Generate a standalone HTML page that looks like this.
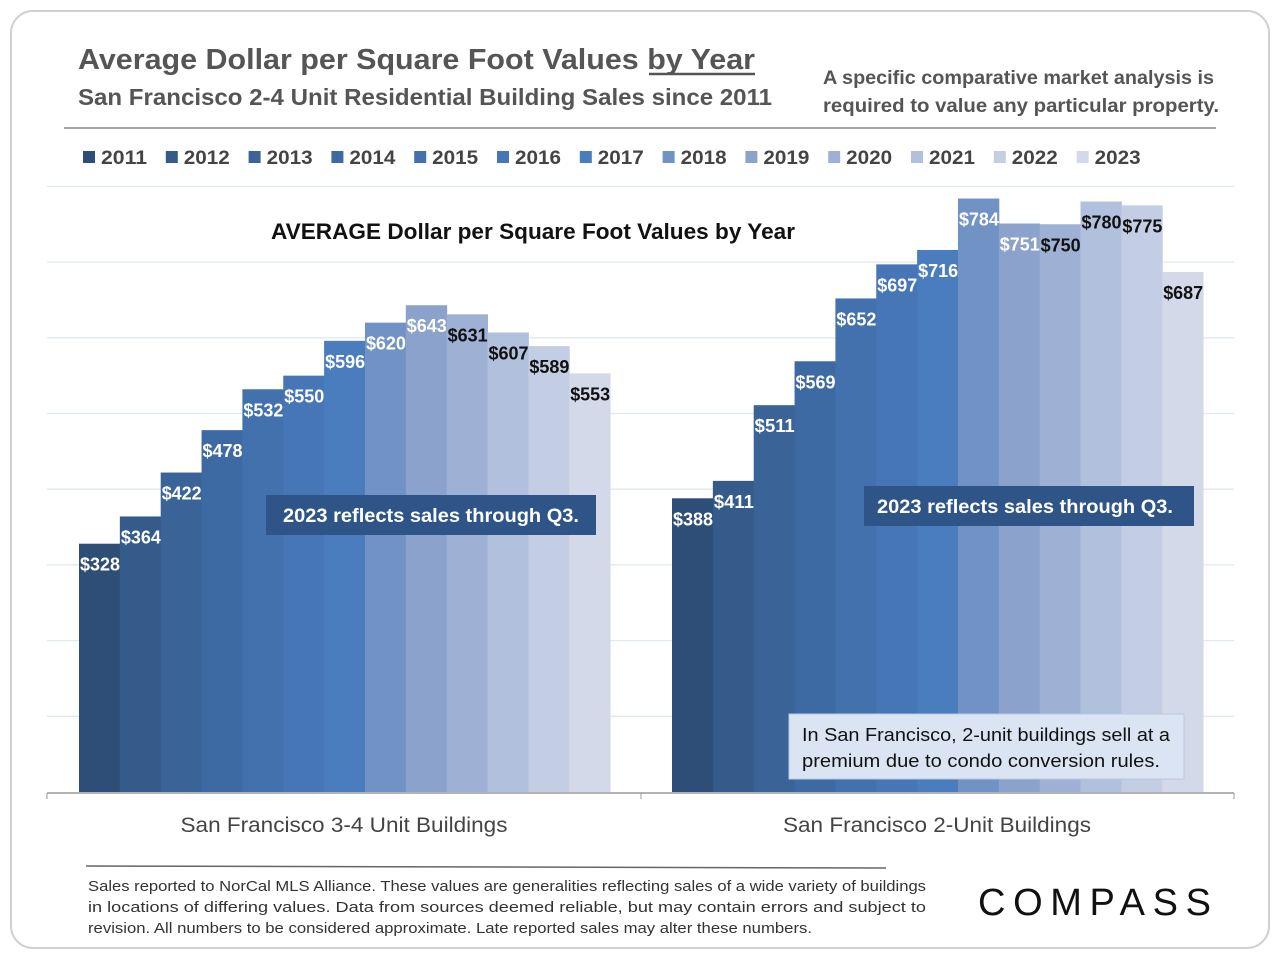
<!DOCTYPE html>
<html><head><meta charset="utf-8"><style>
body{margin:0;background:#fff;font-family:"Liberation Sans",sans-serif}
svg text{font-family:"Liberation Sans",sans-serif}
</style></head><body>
<svg id="chart" width="1280" height="960" xmlns="http://www.w3.org/2000/svg">
<rect x="11" y="11" width="1258" height="937" rx="22" fill="#fff" stroke="#d0d0d0" stroke-width="2"/>
<text x="78" y="69" font-size="29" font-weight="bold" fill="#555" textLength="677" lengthAdjust="spacingAndGlyphs">Average Dollar per Square Foot Values by Year</text>
<line x1="649" y1="74" x2="755" y2="74" stroke="#555" stroke-width="2.5"/>
<text x="78" y="105" font-size="23" font-weight="bold" fill="#555" textLength="694" lengthAdjust="spacingAndGlyphs">San Francisco 2-4 Unit Residential Building Sales since 2011</text>
<text x="823" y="84" font-size="19" font-weight="bold" fill="#555" textLength="391" lengthAdjust="spacingAndGlyphs">A specific comparative market analysis is</text>
<text x="823" y="112" font-size="19" font-weight="bold" fill="#555" textLength="396" lengthAdjust="spacingAndGlyphs">required to value any particular property.</text>
<line x1="64" y1="128" x2="1216" y2="128" stroke="#888" stroke-width="1.5"/>
<g id="legend"></g>
<g id="grid"></g>
<g id="bars"></g>
<text x="533" y="239" text-anchor="middle" font-size="22" font-weight="bold" fill="#111" textLength="524" lengthAdjust="spacingAndGlyphs">AVERAGE Dollar per Square Foot Values by Year</text>
<rect x="266" y="495" width="330" height="40" fill="#2f5588"/>
<text x="431" y="522" text-anchor="middle" font-size="19" font-weight="bold" fill="#fff" textLength="296" lengthAdjust="spacingAndGlyphs">2023 reflects sales through Q3.</text>
<rect x="864" y="486" width="330" height="40" fill="#2f5588"/>
<text x="1025" y="513" text-anchor="middle" font-size="19" font-weight="bold" fill="#fff" textLength="296" lengthAdjust="spacingAndGlyphs">2023 reflects sales through Q3.</text>
<rect x="789" y="714" width="395" height="65" fill="#dbe4f2" stroke="#b9c8e0"/>
<text x="802" y="741" font-size="18" fill="#111" textLength="368" lengthAdjust="spacingAndGlyphs">In San Francisco, 2-unit buildings sell at a</text>
<text x="802" y="767" font-size="18" fill="#111" textLength="358" lengthAdjust="spacingAndGlyphs">premium due to condo conversion rules.</text>
<line x1="47" y1="793" x2="1234" y2="793" stroke="#999" stroke-width="1.5"/>
<line x1="47" y1="793" x2="47" y2="799" stroke="#999"/>
<line x1="641" y1="793" x2="641" y2="799" stroke="#999"/>
<line x1="1234" y1="793" x2="1234" y2="799" stroke="#999"/>
<text x="344" y="832" text-anchor="middle" font-size="21" fill="#444" textLength="327" lengthAdjust="spacingAndGlyphs">San Francisco 3-4 Unit Buildings</text>
<text x="937" y="832" text-anchor="middle" font-size="21" fill="#444" textLength="308" lengthAdjust="spacingAndGlyphs">San Francisco 2-Unit Buildings</text>
<line x1="86" y1="866" x2="886" y2="868" stroke="#666" stroke-width="1.5"/>
<text x="88" y="891" font-size="14.5" fill="#333" textLength="838" lengthAdjust="spacingAndGlyphs">Sales reported to NorCal MLS Alliance. These values are generalities reflecting sales of a wide variety of buildings</text>
<text x="88" y="912" font-size="14.5" fill="#333" textLength="838" lengthAdjust="spacingAndGlyphs">in locations of differing values. Data from sources deemed reliable, but may contain errors and subject to</text>
<text x="88" y="933" font-size="14.5" fill="#333" textLength="724" lengthAdjust="spacingAndGlyphs">revision. All numbers to be considered approximate. Late reported sales may alter these numbers.</text>
<text x="978" y="915" font-size="38" fill="#111" textLength="233" lengthAdjust="spacing">COMPASS</text>
</svg>
<script>
const years=["2011","2012","2013","2014","2015","2016","2017","2018","2019","2020","2021","2022","2023"];
const groups=["San Francisco 3-4 Unit Buildings","San Francisco 2-Unit Buildings"];
const values34=[328,364,422,478,532,550,596,620,643,631,607,589,553];
const values2u=[388,411,511,569,652,697,716,784,751,750,780,775,687];
const gridTicks=[0,100,200,300,400,500,600,700,800];
const colors=["#2f4e77","#345b8a","#3a6398","#3d6aa3","#4271ad","#4676b5","#4a7dbd","#7192c4","#8aa2cc","#9eb1d4","#b1c0dc","#c3cde3","#d3d9e9"];
const NS="http://www.w3.org/2000/svg";
const y0=792, ppu=0.757;
function yScale(v){return y0-v*ppu;}
const groupStart=[79,672], barW=40.85;
function xScale(g,i){return groupStart[g]+i*barW;}
function mk(tag,attrs,parent){const e=document.createElementNS(NS,tag);for(const k in attrs)e.setAttribute(k,attrs[k]);parent.appendChild(e);return e;}
const grid=document.getElementById('grid');
gridTicks.forEach(t=>{if(t===0)return;
 const l=mk('line',{x1:47,x2:1234,y1:yScale(t),y2:yScale(t),stroke:'#dfe9ee','stroke-width':1.3},grid);
 
 });
const bars=document.getElementById('bars');
[values34,values2u].forEach((vals,g)=>{
 vals.forEach((v,i)=>{
  const r=mk('rect',{x:xScale(g,i),y:yScale(v),width:barW+0.5,height:v*ppu,fill:colors[i]},bars);
  
  
  const t=mk('text',{x:xScale(g,i)+1,y:yScale(v)+27,'font-size':18,'font-weight':'bold',fill:i>=9?'#111':'#fff',textLength:40,lengthAdjust:'spacingAndGlyphs'},bars);
  t.textContent='$'+v;
  
  
 });
});
const legend=document.getElementById('legend');
years.forEach((y,i)=>{
 const x=83+i*82.8;
 const s=mk('rect',{x:x,y:151,width:12,height:12,fill:colors[i]},legend);
 
 
 const t=mk('text',{x:x+18,y:164,'font-size':19,'font-weight':'bold',fill:'#444',textLength:46,lengthAdjust:'spacingAndGlyphs'},legend);
 t.textContent=y;
 
 
});
</script>
</body></html>
